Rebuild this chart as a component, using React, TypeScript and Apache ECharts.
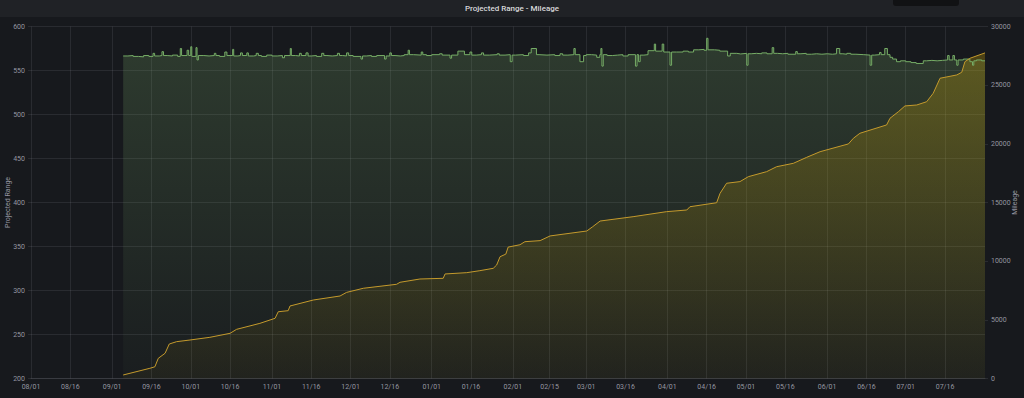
import React, { useEffect, useRef } from 'react';
import * as echarts from 'echarts';

const DAY = 86400000;
const START = Date.UTC(2018, 7, 1);
const X_MAX = START + 364.27 * DAY;

const xTickDates = [
  '2018-08-01', '2018-08-16', '2018-09-01', '2018-09-16', '2018-10-01', '2018-10-16',
  '2018-11-01', '2018-11-16', '2018-12-01', '2018-12-16', '2019-01-01', '2019-01-16',
  '2019-02-01', '2019-02-15', '2019-03-01', '2019-03-16', '2019-04-01', '2019-04-16',
  '2019-05-01', '2019-05-16', '2019-06-01', '2019-06-16', '2019-07-01', '2019-07-16',
];

// Projected Range: day offset from 2018-08-01, value
const rangeDays = [
  35.2, 37, 39, 41, 43, 45, 46.6, 47.2, 49, 50, 50.6, 52, 54, 56, 57, 57.5, 59.6, 60.2, 61, 61.4,
  63, 63.4, 63.9, 66, 68, 70, 70.6, 72, 74, 74.8, 77, 77.4, 79, 80, 80.7, 82.4, 83, 85, 86, 86.8,
  88, 90, 92, 94, 96, 96.8, 99, 99.4, 101, 102.5, 103.2, 105, 105.8, 107, 109, 111, 111.8, 113, 115, 117,
  117.8, 119, 120.5, 121.3, 123, 126, 126.6, 128, 130, 132, 135, 135.6, 137, 137.6, 139, 141, 142.5, 144, 144.5, 146,
  149, 149.6, 151, 153, 156, 157, 160, 160.6, 163, 165.5, 167.6, 168.3, 170, 172, 172.8, 175, 178, 178.8, 181, 183,
  183.7, 185, 188, 190, 191, 193, 194, 197, 200, 202, 203, 205, 207.3, 207.8, 209.6, 211, 212, 214, 216, 217.2,
  217.6, 218, 218.5, 220, 222, 224, 226, 228, 230.8, 231.4, 232, 232.6, 234, 235.6, 238, 238.5, 241, 241.6, 244, 244.6,
  246.5, 249, 251, 253, 255, 257, 258, 258.5, 261, 263, 266, 267, 269.5, 271, 273.3, 273.8, 275, 277, 279, 281,
  283, 283.6, 285, 287, 289, 292, 292.6, 294, 296, 298, 300, 302, 304, 306, 307.6, 308.8, 310, 311.5, 313, 315,
  318, 320.4, 321, 322, 324, 324.6, 326, 327, 328, 329, 330.5, 332, 334, 336, 338, 340.7, 342, 344, 346, 348,
  350, 350.6, 352, 352.6, 353.5, 354, 356, 358.5, 359.5, 360, 361, 363, 364.27,
];
const rangeValues = [
  566.5, 567, 566, 565.5, 567, 566, 569.5, 566.5, 567, 571.4, 567, 566.5, 567.5, 566, 575, 567, 573, 567, 577, 566,
  576, 562, 567, 566.5, 567, 569.5, 567, 566, 571, 567, 574, 566.5, 567, 570, 567, 570, 566.5, 567, 569.5, 567,
  566, 567.5, 566.5, 567, 564.5, 567, 575, 567, 566.5, 569.5, 567, 570, 566.5, 567, 566, 569.5, 567, 566.5, 567, 569.5,
  567, 566.5, 570, 567, 566, 563, 566.5, 567, 566, 567, 563, 566.5, 570, 567, 566.5, 567, 568, 573, 568, 567.5,
  571, 568, 567, 568, 569, 567.5, 564, 567.5, 572, 568, 571, 567.5, 568, 570, 567.5, 568, 569, 567.5, 568, 560,
  567.5, 568, 567, 570, 575, 568, 567.5, 568, 567, 569, 567.5, 568, 575, 568, 560, 567, 568, 567.5, 565, 568,
  575, 555, 568, 567, 567.5, 568, 566.5, 568, 555, 568, 560, 567.5, 568, 572.5, 580, 572, 580, 571, 556, 571,
  571, 572, 571, 573.5, 574, 573, 586.6, 573.5, 573, 572, 566.5, 569.5, 568.8, 569.5, 556, 569, 569.5, 569, 570, 569,
  576, 569.5, 569, 569.5, 568.5, 571.5, 569, 569.5, 568.5, 569, 568.5, 569, 568.5, 569, 575, 569, 568.5, 569.5, 568.5, 568,
  567.5, 556, 567.5, 568, 570.5, 568, 575, 568, 565, 563, 560, 561, 560, 559, 558, 561, 561.5, 561, 561.5, 562,
  567, 562, 567, 562, 556, 562, 563, 560, 556, 561, 562, 561, 561,
];

// Mileage: day offset from 2018-08-01, value
const mileageDays = [
  35.2, 45.4, 47.3, 48.6, 51.2, 52.8, 55.6, 60.7, 68.3, 76, 78.5, 87.4, 93.2, 94.4, 98.2, 98.9, 107.8, 118, 120.5, 126.9,
  139.6, 140.9, 148.5, 157.4, 158.1, 166.4, 171.4, 176.5, 177.8, 179.1, 181.3, 182.2, 186.7, 188.6, 194.4, 198.2, 212.2, 214.5, 217.3, 229.9,
  242.7, 250.4, 251.6, 261.8, 263.1, 265.6, 270.7, 273.9, 280.9, 284.7, 291.1, 296.2, 301.3, 312.1, 314, 316.5, 326.7, 328, 331.2, 333.7,
  338.2, 342, 344.5, 347.1, 353.5, 355.4, 356.6, 358.5, 364.27,
];
const mileageValues = [
  300, 870, 1000, 1720, 2150, 2940, 3140, 3280, 3510, 3850, 4190, 4700, 5130, 5690, 5780, 6180, 6690, 7030, 7340, 7690,
  8030, 8200, 8480, 8540, 8910, 9020, 9190, 9390, 9670, 10380, 10600, 11200, 11400, 11660, 11750, 12150, 12570, 12940, 13420, 13790,
  14220, 14360, 14640, 14980, 15780, 16640, 16780, 17200, 17630, 18050, 18340, 18850, 19330, 19990, 20470, 20900, 21610, 22180, 22740, 23230,
  23310, 23590, 24310, 25590, 25870, 26100, 27000, 27290, 27750,
];

const fmtDate = (v: number) => {
  const d = new Date(v);
  const m = String(d.getUTCMonth() + 1).padStart(2, '0');
  const day = String(d.getUTCDate()).padStart(2, '0');
  return `${m}/${day}`;
};

export default function App() {
  const ref = useRef<HTMLDivElement>(null);
  useEffect(() => {
    const chart = echarts.init(ref.current!, null, { renderer: 'svg' });
    const xTicks = xTickDates.map((s) => Date.parse(s));
    const rangeData = rangeDays.map((d, i) => [START + d * DAY, rangeValues[i]]);
    const mileageData = mileageDays.map((d, i) => [START + d * DAY, mileageValues[i]]);
    const labelColor = 'rgba(204,204,220,0.7)';
    const gridColor = 'rgba(204,204,220,0.1)';
    const yellow = '#C49A2C';
    chart.setOption({
      animation: false,
      backgroundColor: '#17191d',
      textStyle: { fontFamily: 'Roboto' },
      graphic: [
        { type: 'rect', left: 0, top: 0, shape: { width: 1024, height: 17 }, style: { fill: '#202226' }, z: -1 },
        { type: 'rect', left: 893, top: 0, shape: { width: 66, height: 6, r: [0, 0, 3, 3] }, style: { fill: '#111214' }, z: -1 },
        {
          type: 'text', left: 'center', top: 4,
          style: { text: 'Projected Range - Mileage', fill: '#d8d9da', font: '500 8px Roboto' },
        },
      ],
      grid: { left: 31, right: 39, top: 26.5, bottom: 19.5, containLabel: false, outerBoundsMode: 'none' },
      xAxis: {
        type: 'value',
        min: START,
        max: X_MAX,
        axisLine: { show: true, lineStyle: { color: gridColor } },
        axisTick: { show: false, customValues: xTicks },
        axisLabel: {
          customValues: xTicks,
          formatter: (v: number) => fmtDate(v),
          color: labelColor, fontSize: 7, margin: 5, hideOverlap: false,
        },
        splitLine: { show: true, lineStyle: { color: gridColor, width: 1 } },
      },
      yAxis: [
        {
          type: 'value', min: 200, max: 600, interval: 50,
          name: 'Projected Range', nameLocation: 'middle', nameGap: 20, nameMoveOverlap: false,
          nameTextStyle: { color: labelColor, fontSize: 7 },
          axisLine: { show: false },
          axisTick: { show: true, length: 3, lineStyle: { color: gridColor } },
          axisLabel: { color: labelColor, fontSize: 7, margin: 6, formatter: (v: number) => String(v) },
          splitLine: { show: true, lineStyle: { color: gridColor } },
        },
        {
          type: 'value', min: 0, max: 30000, interval: 5000, position: 'right',
          name: 'Mileage', nameLocation: 'middle', nameGap: 26, nameMoveOverlap: false,
          nameTextStyle: { color: labelColor, fontSize: 7 },
          axisLine: { show: false },
          axisTick: { show: true, length: 3, lineStyle: { color: gridColor } },
          axisLabel: { color: labelColor, fontSize: 7, margin: 6, formatter: (v: number) => String(v) },
          splitLine: { show: false },
        },
      ],
      series: [
        {
          name: 'Projected Range', type: 'line', yAxisIndex: 0, step: 'end',
          data: rangeData, showSymbol: false, symbol: 'none',
          lineStyle: { color: '#76ad66', width: 1 },
          itemStyle: { color: '#76ad66' },
          areaStyle: {
            origin: 'start',
            color: new echarts.graphic.LinearGradient(0, 0, 0, 1, [
              { offset: 0, color: 'rgba(126,178,109,0.32)' },
              { offset: 1, color: 'rgba(126,178,109,0.04)' },
            ]),
          },
        },
        {
          name: 'Mileage', type: 'line', yAxisIndex: 1,
          data: mileageData, showSymbol: false, symbol: 'none',
          lineStyle: { color: yellow, width: 1 },
          itemStyle: { color: yellow },
          areaStyle: {
            origin: 'start',
            color: new echarts.graphic.LinearGradient(0, 0, 0, 1, [
              { offset: 0, color: 'rgba(204,163,0,0.42)' },
              { offset: 1, color: 'rgba(204,163,0,0.06)' },
            ]),
          },
        },
      ],
    });
    return () => chart.dispose();
  }, []);
  return <div ref={ref} style={{ position: 'fixed', left: 0, top: 0, width: 1024, height: 398 }} />;
}
